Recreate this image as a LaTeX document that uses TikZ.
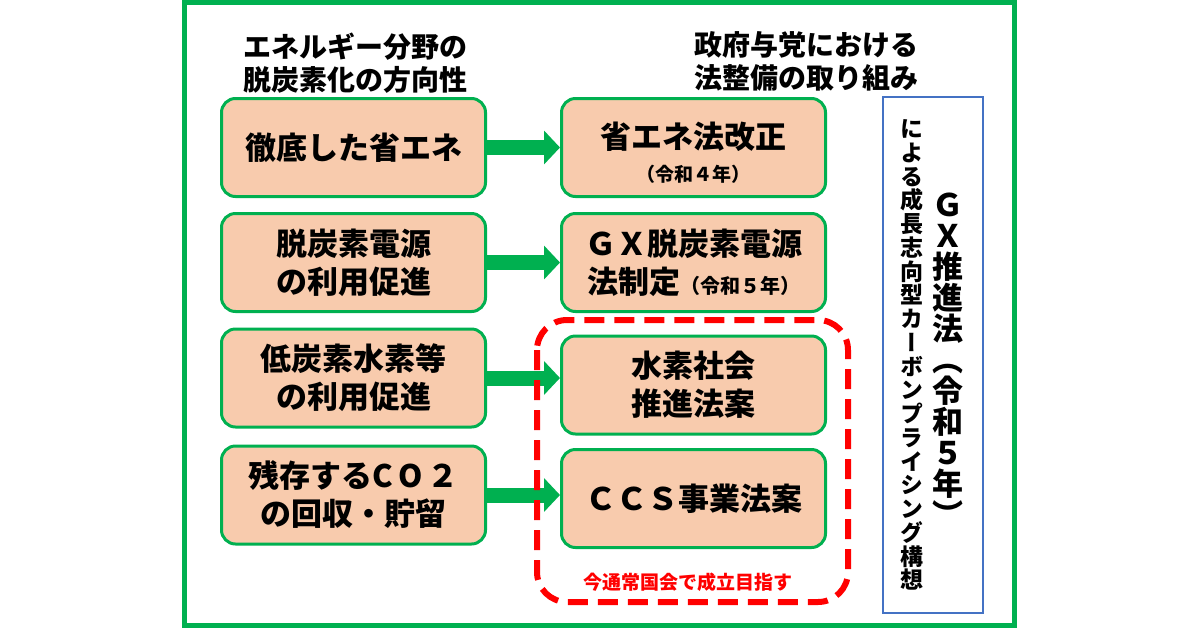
\documentclass[tikz,border=0pt]{standalone}
\usepackage{fontspec}
\newfontfamily\jp{Noto Sans CJK JP}
\newfontfamily\jpv{Noto Sans CJK JP}[RawFeature=+vert]
\usetikzlibrary{arrows.meta}
\usetikzlibrary{positioning}
\definecolor{gxgreen}{HTML}{00B050}
\definecolor{peach}{HTML}{F8CBAD}
\definecolor{gxblue}{HTML}{4472C4}
\definecolor{gxred}{HTML}{FF0000}

\begin{document}
\begin{tikzpicture}
  [
    x=1pt, y=-1pt,
    measure/.style = {draw=gxgreen, line width=3pt, fill=peach, rounded corners=14pt,
                      minimum width=264pt, minimum height=98pt, inner sep=0pt, align=center,
                      font=\jp\bfseries\fontsize{31}{38}\selectfont},
    heading/.style = {align=center, inner sep=0pt, font=\jp\bfseries\fontsize{28}{33}\selectfont},
    flow/.style    = {gxgreen, line width=15pt, -{Triangle[length=16pt,width=33pt]}},
    tate/.style    = {align=center, inner sep=0pt},
  ]

  % page and frame
  \useasboundingbox (0,0) rectangle (1200,630);
  \draw[gxgreen, line width=5pt] (184.5,2.5) rectangle (1014.5,625);

  \def\lx{353.5}
  \def\rx{693.5}

  % headings
  \node (lhead) at (355,63) [heading] {エネルギー分野の\\脱炭素化の方向性};
  \node (rhead) at (806,61) [heading] {政府与党における\\法整備の取り組み};

  % left column
  \node (saving)   at (\lx,147.5) [measure] {徹底した省エネ};
  \node (power)    at (\lx,262.5) [measure] {脱炭素電源\\の利用促進};
  \node (hydrogen) at (\lx,378)   [measure] {低炭素水素等\\の利用促進};
  \node (capture)  at (\lx,495)   [measure] {残存するC\hspace{5pt}O\hspace{5pt}２\\の回収・貯留};

  % right column
  \node (savelaw)  at (\rx,147.5) [measure]
    {\rule{0pt}{36pt}省エネ法改正\\[-5pt]{\fontsize{19}{20}\selectfont （令和４年）}};
  \node (powerlaw) at (\rx,262.5) [measure] {ＧＸ脱炭素電源\\法制定{\fontsize{20}{20}\selectfont （令和５年）}};
  \node (h2law)    at (\rx,385)   [measure] {水素社会\\推進法案};
  \node (ccslaw)   at (\rx,498.5) [measure] {ＣＣＳ事業法案};

  % arrows
  \draw[flow] (saving.east)   -- (saving.east -| savelaw.west);
  \draw[flow] (power.east)    -- (power.east -| powerlaw.west);
  \draw[flow] (hydrogen.east) -- (hydrogen.east -| h2law.west);
  \draw[flow] (capture.east)  -- (capture.east -| ccslaw.west);

  % bills for this session
  \draw[gxred, line width=6pt, dash pattern=on 20pt off 10pt, rounded corners=30pt]
    (537,320) rectangle (848,602);
  \node (aim) at (688,582) [font=\jp\bfseries\fontsize{19}{20}\selectfont, text=gxred, inner sep=0pt]
    {今通常国会で成立目指す};

  % GX act
  \node (gxbox) at (933,355) [draw=gxblue, line width=1.5pt, minimum width=100pt, minimum height=516pt] {};
  \node (pricing) at (912,355) [tate, font=\jpv\bfseries\fontsize{23}{23.75}\selectfont]
    {に\\よ\\る\\成\\長\\志\\向\\型\\カ\\ー\\ボ\\ン\\プ\\ラ\\イ\\シ\\ン\\グ\\構\\想};
  \node (gxact) at (948,360) [tate, font=\jpv\bfseries\fontsize{31}{31}\selectfont]
    {Ｇ\\Ｘ\\推\\進\\法\\︵\\令\\和\\５\\年\\︶};

\end{tikzpicture}
\end{document}
